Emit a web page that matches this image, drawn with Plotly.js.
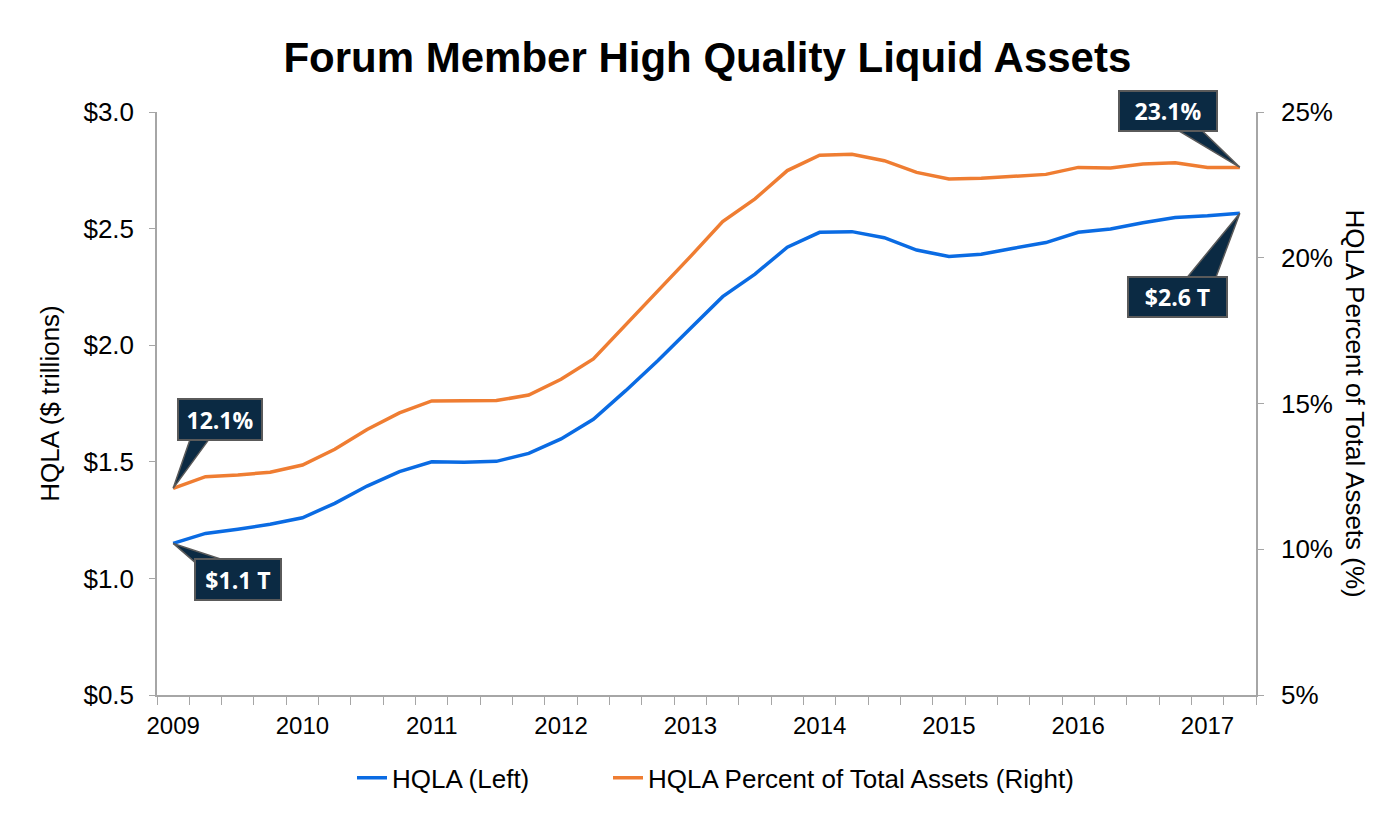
<!DOCTYPE html>
<html>
<head>
<meta charset="utf-8">
<script src="https://cdn.plot.ly/plotly-3.0.1.min.js"></script>
<style>
  html, body { margin: 0; padding: 0; background: #ffffff; }
  #chart { width: 1387px; height: 813px; }
</style>
</head>
<body>
<div id="chart"></div>
<script>
// ---- Data ----
const quarters = [
  '2009Q1','2009Q2','2009Q3','2009Q4',
  '2010Q1','2010Q2','2010Q3','2010Q4',
  '2011Q1','2011Q2','2011Q3','2011Q4',
  '2012Q1','2012Q2','2012Q3','2012Q4',
  '2013Q1','2013Q2','2013Q3','2013Q4',
  '2014Q1','2014Q2','2014Q3','2014Q4',
  '2015Q1','2015Q2','2015Q3','2015Q4',
  '2016Q1','2016Q2','2016Q3','2016Q4',
  '2017Q1','2017Q2'
];
// HQLA, $ trillions (left axis)
const hqla = [
  1.150, 1.193, 1.211, 1.232,
  1.260, 1.322, 1.396, 1.458,
  1.500, 1.498, 1.502, 1.536,
  1.598, 1.682, 1.805, 1.934,
  2.072, 2.208, 2.305, 2.420,
  2.484, 2.487, 2.461, 2.408,
  2.380, 2.390, 2.416, 2.440,
  2.484, 2.498, 2.525, 2.548,
  2.555, 2.566
];
// HQLA percent of total assets (right axis)
const hqlaPct = [
  12.09, 12.49, 12.55, 12.64,
  12.89, 13.43, 14.11, 14.68,
  15.09, 15.09, 15.10, 15.29,
  15.83, 16.53, 17.69, 18.84,
  20.04, 21.24, 22.02, 22.99,
  23.52, 23.55, 23.33, 22.93,
  22.70, 22.73, 22.81, 22.86,
  23.10, 23.08, 23.22, 23.26,
  23.10, 23.10
];
const yearLabels = ['2009','2010','2011','2012','2013','2014','2015','2016','2017'];
const seriesNames = ['HQLA (Left)', 'HQLA Percent of Total Assets (Right)'];
const calloutLabels = {
  pctFirst: '12.1%',
  hqlaFirst: '$1.1 T',
  pctLast: '23.1%',
  hqlaLast: '$2.6 T'
};

// ---- Build ----
const xIdx = quarters.map((q, i) => i);
const yearTickVals = yearLabels.map(y => quarters.indexOf(y + 'Q1'));

const FONT = 'Arial, "Liberation Sans", sans-serif';
const CALLOUT_FONT = '"Open Sans", "Noto Sans", sans-serif';
const BLUE = '#0a6be3';
const ORANGE = '#ef7d32';
const NAVY = '#0b2a43';
const AXIS = '#a6a6a6';

const traces = [
  {
    x: xIdx, y: hqla, name: seriesNames[0], type: 'scatter', mode: 'lines',
    line: { color: BLUE, width: 3.5 }, yaxis: 'y', legend: 'legend', hoverinfo: 'x+y'
  },
  {
    x: xIdx, y: hqlaPct, name: seriesNames[1], type: 'scatter', mode: 'lines',
    line: { color: ORANGE, width: 3.5 }, yaxis: 'y2', legend: 'legend2', hoverinfo: 'x+y'
  }
];

const last = quarters.length - 1;

// callout definitions: anchor point + pixel offsets of box center + wedge path (pixels, y up)
const callouts = [
  { text: calloutLabels.pctFirst, x: 0, y: hqlaPct[0], yref: 'y2',
    dx: 47, dy: 69, w: 82, h: 39, wedge: 'M0,0 L18,52 L38,52 Z' },
  { text: calloutLabels.hqlaFirst, x: 0, y: hqla[0], yref: 'y',
    dx: 65, dy: -36, w: 84, h: 39, wedge: 'M0,0 L22,-19 L58,-19 Z' },
  { text: calloutLabels.pctLast, x: last, y: hqlaPct[last], yref: 'y2',
    dx: -72, dy: 56, w: 96, h: 38, wedge: 'M0,0 L-65,39 L-40,39 Z' },
  { text: calloutLabels.hqlaLast, x: last, y: hqla[last], yref: 'y',
    dx: -62, dy: -84, w: 97, h: 38, wedge: 'M0,0 L-55,-67 L-25,-67 Z' }
];

const shapes = callouts.map(c => ({
  type: 'path', xref: 'x', yref: c.yref,
  xsizemode: 'pixel', ysizemode: 'pixel',
  xanchor: c.x, yanchor: c.y,
  path: c.wedge,
  fillcolor: NAVY,
  line: { color: '#5a5a5a', width: 1.5 },
  layer: 'above'
}));

const annotations = callouts.map(c => ({
  xref: 'x', yref: c.yref, x: c.x, y: c.y,
  xshift: c.dx, yshift: c.dy,
  showarrow: false,
  text: '<b>' + c.text + '</b>',
  font: { family: CALLOUT_FONT, size: 23, color: '#ffffff' },
  bgcolor: NAVY, bordercolor: '#5a5a5a', borderwidth: 2, borderpad: 0,
  width: c.w, height: c.h,
  xanchor: 'center', yanchor: 'middle', align: 'center', valign: 'middle'
}));

// right axis title, reading top-to-bottom
annotations.push({
  xref: 'paper', yref: 'paper', x: 1, y: 0.5,
  xshift: 99, xanchor: 'center', yanchor: 'middle',
  showarrow: false, textangle: 90,
  text: 'HQLA Percent of Total Assets (%)',
  font: { family: FONT, size: 26, color: '#000000' }
});

const legendCommon = {
  orientation: 'h', xanchor: 'left', y: -0.142, yanchor: 'middle',
  font: { family: FONT, size: 26, color: '#000000' },
  bgcolor: 'rgba(0,0,0,0)', itemwidth: 30
};

const layout = {
  width: 1387, height: 813,
  paper_bgcolor: '#ffffff', plot_bgcolor: '#ffffff',
  margin: { l: 157, r: 131, t: 112, b: 118 },
  font: { family: FONT, size: 22, color: '#000000' },
  title: {
    text: '<b>Forum Member High Quality Liquid Assets</b>',
    font: { family: FONT, size: 42, color: '#000000' },
    x: 0.51, xanchor: 'center', y: 0.93, yanchor: 'middle'
  },
  showlegend: true,
  legend: Object.assign({}, legendCommon, { x: (360 - 8 - 157) / 1099 }),
  legend2: Object.assign({}, legendCommon, { x: (616 - 8 - 157) / 1099 }),
  xaxis: {
    range: [-0.5, last + 0.5],
    tickmode: 'array', tickvals: yearTickVals, ticktext: yearLabels,
    ticks: '', ticklabelstandoff: 8,
    showgrid: false, zeroline: false,
    showline: true, linecolor: AXIS, linewidth: 1.5,
    tickfont: { family: FONT, size: 24, color: '#000000' },
    minor: { ticks: 'outside', tick0: 0.5, dtick: 1, ticklen: 8, tickwidth: 1.3, tickcolor: AXIS, showgrid: false },
    fixedrange: true
  },
  yaxis: {
    range: [0.5, 3.0], dtick: 0.5, tick0: 0.5,
    tickprefix: '$', tickformat: '.1f',
    ticks: 'outside', ticklen: 6, tickwidth: 1.3, tickcolor: AXIS,
    ticklabelstandoff: 10,
    showgrid: false, zeroline: false,
    showline: true, linecolor: AXIS, linewidth: 1.5,
    tickfont: { family: FONT, size: 26, color: '#000000' },
    title: { text: 'HQLA ($ trillions)', font: { family: FONT, size: 26, color: '#000000' }, standoff: 16 },
    fixedrange: true
  },
  yaxis2: {
    overlaying: 'y', side: 'right',
    range: [5, 25], dtick: 5, tick0: 5,
    ticksuffix: '%',
    ticks: 'outside', ticklen: 6, tickwidth: 1.3, tickcolor: AXIS,
    ticklabelstandoff: 12,
    showgrid: false, zeroline: false,
    showline: true, linecolor: AXIS, linewidth: 1.5,
    tickfont: { family: FONT, size: 26, color: '#000000' },
    fixedrange: true
  },
  shapes: shapes,
  annotations: annotations
};

Plotly.newPlot('chart', traces, layout, { displayModeBar: false, responsive: false });
</script>
</body>
</html>
